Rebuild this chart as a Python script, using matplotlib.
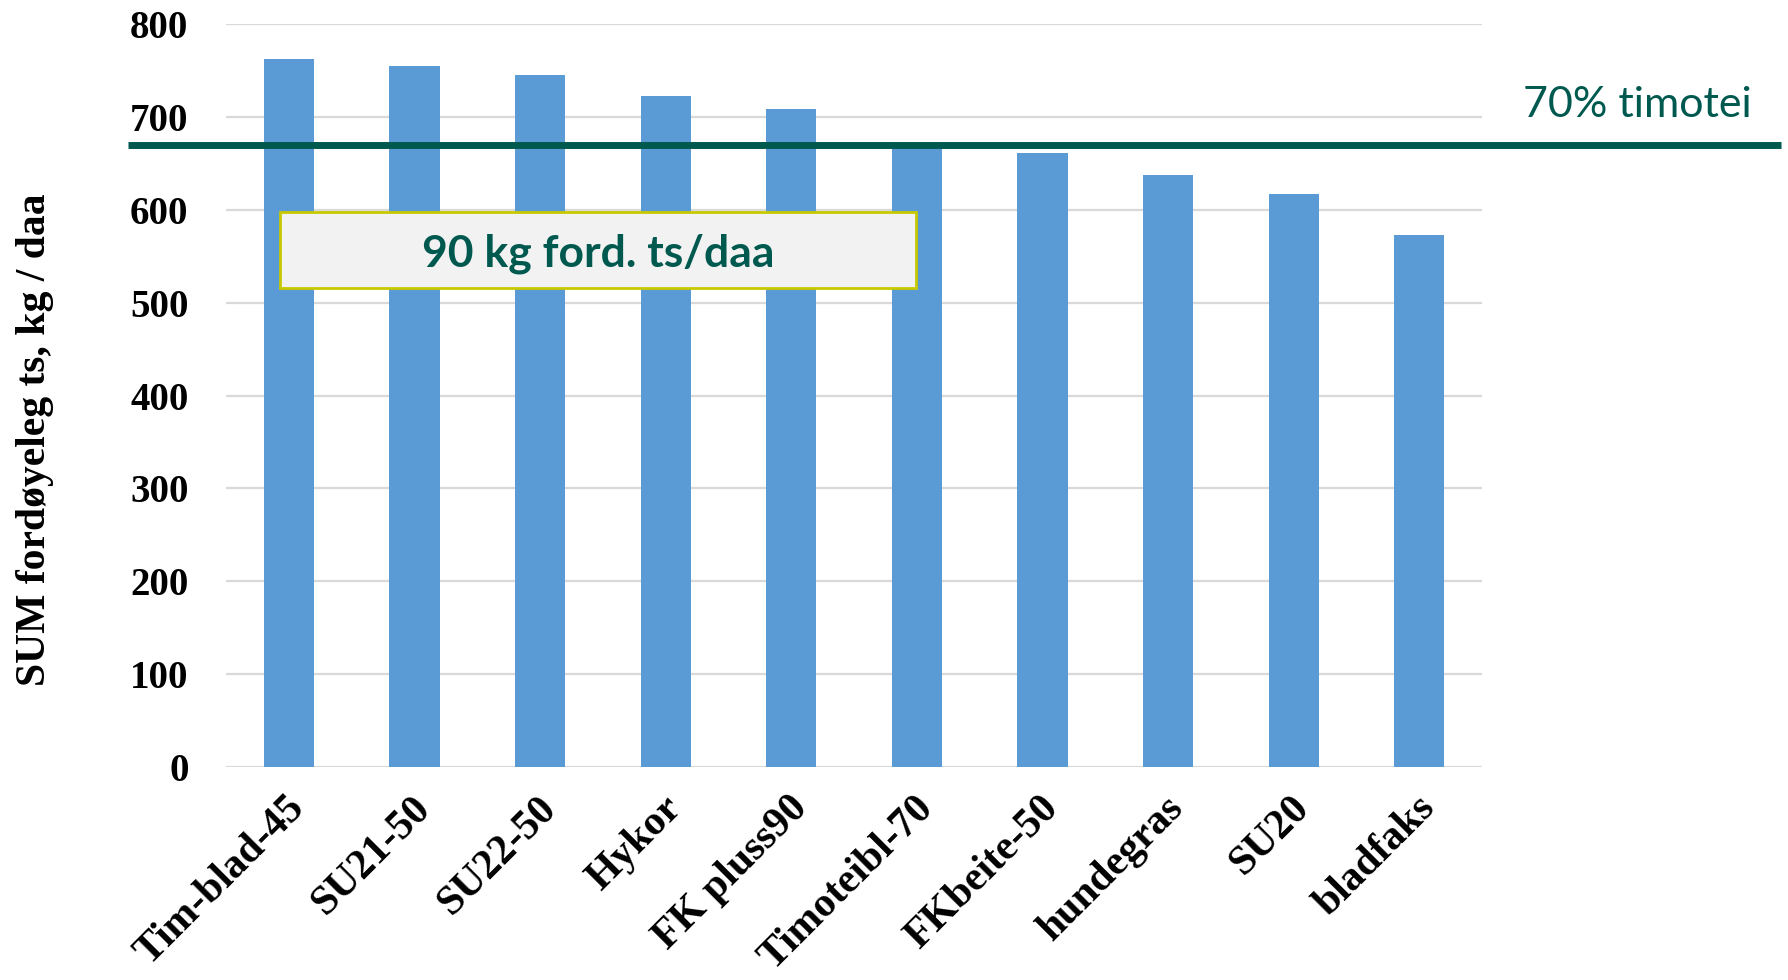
import matplotlib.pyplot as plt
import matplotlib.transforms as mtransforms
from matplotlib.patches import Rectangle
import numpy as np

sorter = ['Tim-blad-45', 'SU21-50', 'SU22-50', 'Hykor', 'FK pluss90',
          'Timoteibl-70', 'FKbeite-50', 'hundegras', 'SU20', 'bladfaks']
verdier = [762, 755, 745, 723, 708, 671, 661, 637, 617, 573]
timotei_niva = 670
yticks = [0, 100, 200, 300, 400, 500, 600, 700, 800]

blaa = '#5B9BD5'
gronn = '#00594F'

fig = plt.figure(figsize=(17.88, 9.8), dpi=100)
ax = fig.add_axes([0.1264, 0.2173, 0.7025, 0.7582])

x = np.arange(len(sorter))
ax.bar(x, verdier, width=0.4, color=blaa, zorder=2)

ax.set_xlim(-0.5, len(sorter) - 0.5)
ax.set_ylim(0, 800)
ax.set_yticks(yticks)
ax.grid(axis='y', color='#D9D9D9', linewidth=1.6, zorder=0)
for s in ax.spines.values():
    s.set_visible(False)
ax.tick_params(axis='both', length=0)
ax.tick_params(axis='y', pad=27)

ax.set_yticklabels([str(v) for v in yticks], fontsize=28,
                   fontweight='bold', family='Liberation Serif')
ax.set_xticks(x)
ax.set_xticklabels(sorter, rotation=45, ha='right', va='top',
                   rotation_mode='anchor', fontsize=30, fontweight='bold',
                   family='Liberation Serif')
for lbl in ax.get_xticklabels():
    lbl.set_transform(lbl.get_transform() + mtransforms.ScaledTranslation(-0.03, -0.17, fig.dpi_scale_trans))

ax.set_ylabel('SUM fordøyeleg ts, kg / daa', fontsize=30, fontweight='bold',
              family='Liberation Serif')
ax.yaxis.set_label_coords(-0.137, 0.441)

# 70% timotei linje
trans = mtransforms.blended_transform_factory(ax.transAxes, ax.transData)
ax.plot([-0.078, 1.238], [timotei_niva, timotei_niva], color=gronn,
        linewidth=5, transform=trans, clip_on=False, zorder=3,
        solid_capstyle='butt')
ax.text(1.124, 713, '70% timotei', transform=trans, color=gronn,
        fontsize=31, family='Lato', ha='center', va='center')

# tekstboks
ax.add_patch(Rectangle((-0.07, 516), 5.06, 82, facecolor='#F2F2F2',
                       edgecolor='#C8C800', linewidth=2, zorder=4))
ax.text(2.46, 553, '90 kg ford. ts/daa', color=gronn, fontsize=32,
        fontweight='bold', family='Lato', ha='center', va='center', zorder=5)

fig.savefig('out.png', dpi=100)
